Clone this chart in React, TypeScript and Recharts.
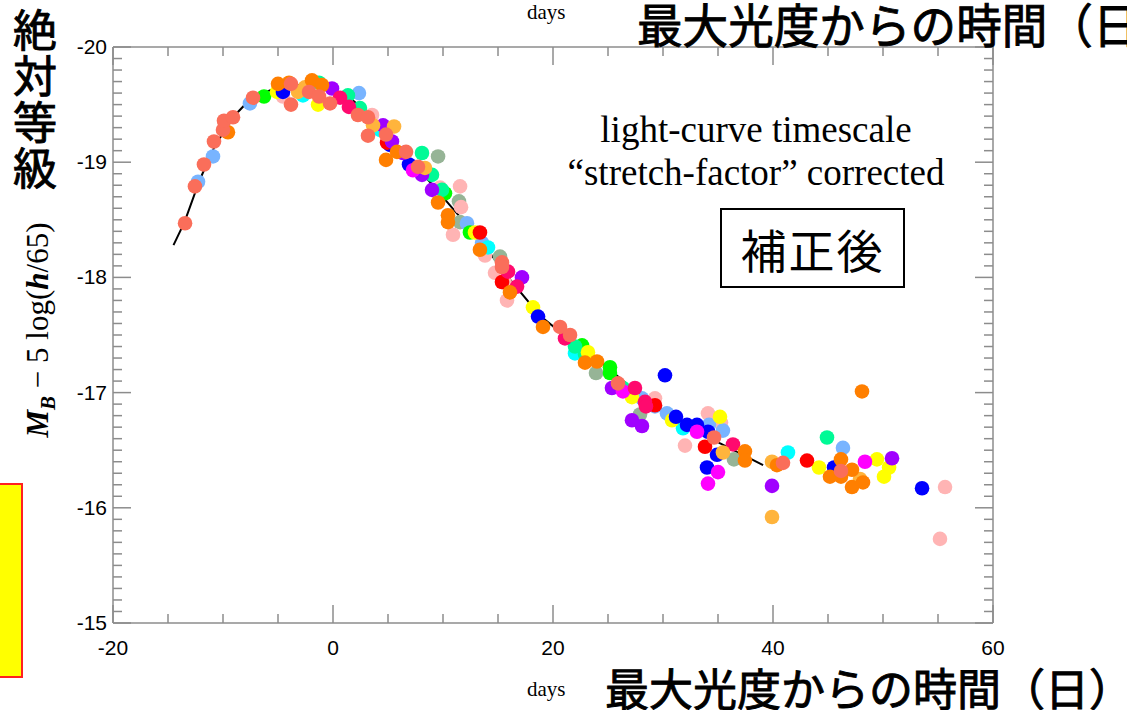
import React from 'react';
import { ScatterChart, Scatter, XAxis, YAxis } from 'recharts';

// template light curve (days from max, M_B - 5 log(h/65))
const templateDays = [-14.5, -13.5, -12.1, -10.7, -8.9, -7.4, -5.3, -3.0, -0.7, 1.5, 3.4, 5.2, 7.9, 10.6, 13.4, 16.1, 18.8, 21.5, 24.3, 27.9, 31.5, 35.2, 39.1];
const templateMags = [-18.28, -18.48, -18.85, -19.15, -19.41, -19.56, -19.64, -19.67, -19.64, -19.56, -19.41, -19.21, -18.93, -18.63, -18.32, -17.98, -17.67, -17.46, -17.27, -16.98, -16.76, -16.56, -16.37];

// observed supernovae, one list per colour: [day, mag]
const salmon: [number, number][] = [[-13.45, -18.47], [-12.55, -18.79], [-11.73, -18.98], [-10.82, -19.18], [-10.0, -19.28], [-9.91, -19.36], [-9.09, -19.39], [-7.27, -19.56], [-3.82, -19.68], [-3.82, -19.5], [-2.18, -19.61], [-1.27, -19.57], [-0.27, -19.51], [2.27, -19.41], [3.18, -19.39], [3.18, -19.23], [4.82, -19.24], [6.64, -19.09], [7.73, -18.96], [15.36, -18.13], [15.36, -18.09], [20.64, -17.57], [21.55, -17.5], [25.91, -17.08], [34.64, -16.61], [40.91, -16.39], [46.18, -16.32]];
const orange: [number, number][] = [[-9.55, -19.26], [-5.0, -19.68], [-4.0, -19.69], [-1.91, -19.71], [-1.0, -19.67], [4.82, -19.02], [5.82, -19.09], [9.55, -18.65], [10.45, -18.54], [10.45, -18.48], [13.36, -18.24], [16.09, -17.87], [19.09, -17.57], [22.91, -17.26], [24.0, -17.27], [37.45, -16.49], [37.45, -16.41], [40.36, -16.37], [48.09, -17.01], [46.18, -16.42], [47.18, -16.33], [45.18, -16.27], [46.18, -16.27], [47.18, -16.18], [48.18, -16.22]];
const lightOrange: [number, number][] = [[-3.18, -19.61], [-2.55, -19.65], [3.64, -19.32], [5.55, -19.31], [8.36, -18.95], [35.45, -16.48], [39.91, -16.4], [39.91, -15.92], [47.91, -16.25]];
const lightBlue: [number, number][] = [[-12.27, -18.83], [-10.91, -19.05], [-7.55, -19.51], [2.36, -19.6], [12.18, -18.47], [13.55, -18.3], [28.09, -16.95], [29.27, -16.88], [30.36, -16.82], [34.18, -16.72], [35.45, -16.67], [46.36, -16.52]];
const green: [number, number][] = [[-6.27, -19.57], [10.18, -18.73], [12.45, -18.39], [22.64, -17.41], [25.18, -17.22], [25.18, -17.17]];
const blue: [number, number][] = [[-4.55, -19.61], [5.18, -19.15], [6.91, -18.98], [18.64, -17.66], [30.18, -17.15], [31.18, -16.79], [32.18, -16.72], [33.09, -16.72], [34.09, -16.66], [34.91, -16.46], [34.0, -16.35], [45.55, -16.35], [53.55, -16.17]];
const yellow: [number, number][] = [[-5.09, -19.61], [-1.36, -19.5], [12.91, -18.39], [18.18, -17.74], [23.18, -17.35], [27.18, -16.96], [30.82, -16.76], [35.18, -16.79], [44.18, -16.35], [49.45, -16.42], [50.55, -16.35], [50.09, -16.27]];
const pink: [number, number][] = [[-4.55, -19.57], [3.55, -19.41], [9.73, -18.78], [11.55, -18.79], [11.64, -18.61], [10.91, -18.37], [13.82, -18.19], [14.73, -18.04], [15.64, -17.95], [15.82, -17.8], [29.27, -16.95], [32.0, -16.54], [34.09, -16.82], [35.27, -16.74], [55.64, -16.18], [55.18, -15.73]];
const cyan: [number, number][] = [[-2.73, -19.58], [4.27, -19.28], [14.09, -18.26], [22.0, -17.34], [31.82, -16.69], [41.36, -16.48]];
const springGreen: [number, number][] = [[-1.27, -19.69], [1.36, -19.58], [2.45, -19.47], [8.09, -19.08], [9.0, -18.89], [9.91, -18.76], [22.0, -17.4], [22.91, -17.33], [26.36, -17.04], [44.91, -16.61]];
const magenta: [number, number][] = [[7.27, -18.93], [26.36, -17.01], [33.09, -16.66], [35.0, -16.31], [34.09, -16.21], [48.36, -16.4]];
const purple: [number, number][] = [[-0.09, -19.64], [4.55, -19.32], [5.36, -19.18], [6.36, -19.08], [8.09, -18.89], [9.0, -18.76], [17.18, -18.0], [25.36, -17.04], [27.18, -16.76], [28.09, -16.71], [39.91, -16.19], [50.82, -16.43]];
const red: [number, number][] = [[4.91, -19.17], [13.36, -18.39], [15.36, -17.96], [29.27, -16.89], [33.82, -16.53], [43.09, -16.41]];
const crimson: [number, number][] = [[0.64, -19.56], [1.45, -19.48], [15.91, -18.05], [16.73, -17.92], [21.09, -17.47], [27.45, -17.04], [28.36, -16.92], [28.45, -16.88], [36.36, -16.55]];
const sage: [number, number][] = [[9.55, -19.05], [11.45, -18.66], [11.55, -18.48], [15.18, -18.18], [23.91, -17.17], [27.91, -16.81], [36.45, -16.42]];

const xTicks = [-20, -15, -10, -5, 0, 5, 10, 15, 20, 25, 30, 35, 40, 45, 50, 55, 60];
const yTicks = Array.from({ length: 51 }, (_, i) => Math.round((-20 + i * 0.1) * 10) / 10);

const series = [
  { name: 'sage', color: '#96b496', pts: sage },
  { name: 'pink', color: '#ffb4b4', pts: pink },
  { name: 'lightBlue', color: '#78b4ff', pts: lightBlue },
  { name: 'cyan', color: '#00ffff', pts: cyan },
  { name: 'green', color: '#00ff00', pts: green },
  { name: 'springGreen', color: '#00fa96', pts: springGreen },
  { name: 'yellow', color: '#ffff00', pts: yellow },
  { name: 'blue', color: '#0000ff', pts: blue },
  { name: 'red', color: '#ff0000', pts: red },
  { name: 'purple', color: '#a000ff', pts: purple },
  { name: 'magenta', color: '#ff00ff', pts: magenta },
  { name: 'crimson', color: '#ff0a6e', pts: crimson },
  { name: 'lightOrange', color: '#ffb43c', pts: lightOrange },
  { name: 'orange', color: '#ff7f00', pts: orange },
  { name: 'salmon', color: '#fa6e5a', pts: salmon },
];

const template = templateDays.map((d, i) => ({ day: d, mag: templateMags[i] }));

const AXIS = '#8c8c8c';
const TICK_FONT = '"Liberation Sans", Arial, sans-serif';

function BottomTick({ x, y, payload }: any) {
  const major = payload.value % 20 === 0;
  return (
    <g>
      <line x1={x} x2={x} y1={y} y2={y - (major ? 18 : 9)} stroke={AXIS} strokeWidth={1.5} />
      {major && (
        <text x={x} y={y + 32} textAnchor="middle" fontSize={21} fontFamily={TICK_FONT} fill="#000">
          {payload.value}
        </text>
      )}
    </g>
  );
}

function TopTick({ x, y, payload }: any) {
  const major = payload.value % 20 === 0;
  return <line x1={x} x2={x} y1={y} y2={y + (major ? 18 : 9)} stroke={AXIS} strokeWidth={1.5} />;
}

function LeftTick({ x, y, payload }: any) {
  const major = Number.isInteger(payload.value);
  return (
    <g>
      <line x1={x} x2={x + (major ? 18 : 9)} y1={y} y2={y} stroke={AXIS} strokeWidth={1.5} />
      {major && (
        <text x={x - 6} y={y} dy={7} textAnchor="end" fontSize={21} fontFamily={TICK_FONT} fill="#000">
          {payload.value}
        </text>
      )}
    </g>
  );
}

function RightTick({ x, y, payload }: any) {
  const major = Number.isInteger(payload.value);
  return <line x1={x} x2={x - (major ? 18 : 9)} y1={y} y2={y} stroke={AXIS} strokeWidth={1.5} />;
}

const serif = '"Liberation Serif", "Times New Roman", serif';
const jp = '"Noto Sans CJK JP", sans-serif';
const jpHeavy = { fontFamily: jp, fontWeight: 400, WebkitTextStroke: '0.9px #000' } as const;

export default function App() {
  return (
    <div style={{ position: 'absolute', left: 0, top: 0, width: 1127, height: 710, overflow: 'hidden', background: '#fff' }}>
      <ScatterChart width={1127} height={710} margin={{ top: 37, right: 124, bottom: 47, left: 53 }}>
        <XAxis
          xAxisId="b"
          type="number"
          dataKey="day"
          domain={[-20, 60]}
          ticks={xTicks}
          interval={0}
          tickSize={0}
          tickMargin={0}
          height={40}
          tick={(p: any) => <BottomTick {...p} />}
          axisLine={{ stroke: AXIS, strokeWidth: 1.5 }}
          allowDataOverflow
        />
        <XAxis
          xAxisId="t"
          orientation="top"
          type="number"
          dataKey="day"
          domain={[-20, 60]}
          ticks={xTicks}
          interval={0}
          tickSize={0}
          tickMargin={0}
          height={10}
          tick={(p: any) => <TopTick {...p} />}
          axisLine={{ stroke: AXIS, strokeWidth: 1.5 }}
          allowDataOverflow
        />
        <YAxis
          yAxisId="l"
          type="number"
          dataKey="mag"
          domain={[-20, -15]}
          reversed
          ticks={yTicks}
          interval={0}
          tickSize={0}
          tickMargin={0}
          width={60}
          tick={(p: any) => <LeftTick {...p} />}
          axisLine={{ stroke: AXIS, strokeWidth: 1.5 }}
          allowDataOverflow
        />
        <YAxis
          yAxisId="r"
          orientation="right"
          type="number"
          dataKey="mag"
          domain={[-20, -15]}
          reversed
          ticks={yTicks}
          interval={0}
          tickSize={0}
          tickMargin={0}
          width={10}
          tick={(p: any) => <RightTick {...p} />}
          axisLine={{ stroke: AXIS, strokeWidth: 1.5 }}
          allowDataOverflow
        />
        <Scatter
          xAxisId="t"
          yAxisId="r"
          data={template}
          line={{ stroke: '#000', strokeWidth: 2 }}
          shape={() => <g />}
          isAnimationActive={false}
        />
        {series.map((s) => (
          <Scatter
            key={s.name}
            xAxisId="b"
            yAxisId="l"
            data={s.pts.map(([day, mag]) => ({ day, mag }))}
            fill={s.color}
            shape={(p: any) => <circle cx={p.cx} cy={p.cy} r={7.3} fill={s.color} />}
            isAnimationActive={false}
          />
        ))}
      </ScatterChart>

      {/* x-axis titles (top one is clipped at the page edge) */}
      <div style={{ position: 'absolute', left: 527, top: 0, fontFamily: serif, fontSize: 21, lineHeight: '24px' }}>days</div>
      <div style={{ position: 'absolute', left: 637, top: -2, fontSize: 47, whiteSpace: 'nowrap', lineHeight: '50px', transform: 'scaleX(0.97)', transformOrigin: 'left top', ...jpHeavy }}>
        最大光度からの時間（日）
      </div>
      <div style={{ position: 'absolute', left: 527, top: 677, fontFamily: serif, fontSize: 21, lineHeight: '24px' }}>days</div>
      <div style={{ position: 'absolute', left: 605, top: 665, fontSize: 44, whiteSpace: 'nowrap', lineHeight: '44px', ...jpHeavy }}>
        最大光度からの時間（日）
      </div>

      {/* y-axis titles */}
      <div style={{ position: 'absolute', left: 12, top: 8, fontSize: 44, writingMode: 'vertical-rl', lineHeight: '46px', letterSpacing: 2, ...jpHeavy }}>
        絶対等級
      </div>
      <div
        style={{
          position: 'absolute', left: 38 - 150, top: 330 - 18, width: 300, height: 36, textAlign: 'center',
          fontFamily: serif, fontSize: 31, lineHeight: '36px', transform: 'rotate(-90deg)', whiteSpace: 'nowrap',
        }}
      >
        <b><i>M</i><sub style={{ fontSize: 21 }}><i>B</i></sub></b> − 5 log(<b><i>h</i></b>/65)
      </div>

      {/* annotations */}
      <div style={{ position: 'absolute', left: 506, top: 108, width: 500, textAlign: 'center', fontFamily: serif, fontSize: 37, lineHeight: '43px' }}>
        light-curve timescale<br />“stretch-factor” corrected
      </div>
      <div
        style={{
          position: 'absolute', left: 720, top: 208, width: 185, height: 80, boxSizing: 'border-box', border: '2px solid #000',
          display: 'flex', alignItems: 'center', justifyContent: 'center', fontFamily: jp, fontSize: 46, letterSpacing: 2,
        }}
      >
        補正後
      </div>
      <div style={{ position: 'absolute', left: -2, top: 483, width: 25, height: 195, boxSizing: 'border-box', background: '#ffff00', border: '2px solid #ff2020' }} />
    </div>
  );
}
